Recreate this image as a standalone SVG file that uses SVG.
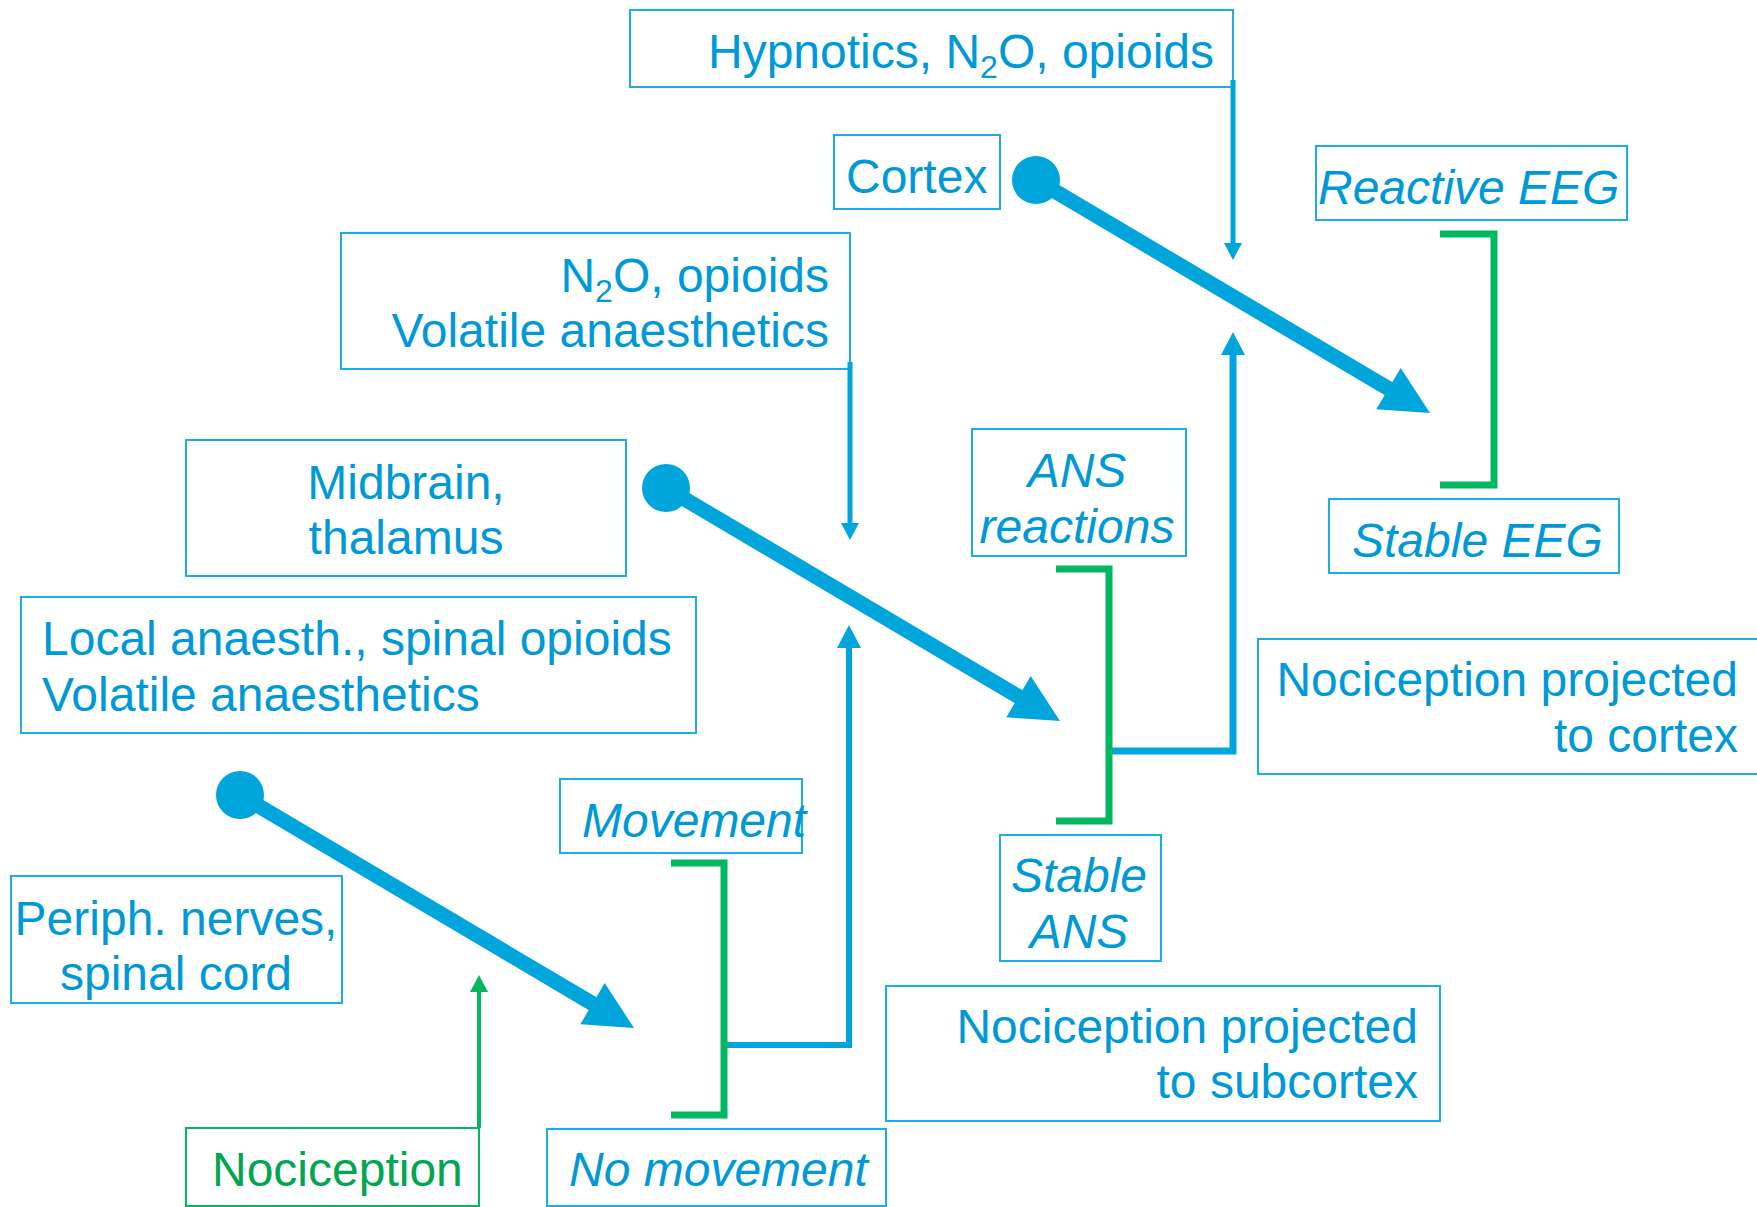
<svg xmlns="http://www.w3.org/2000/svg" width="1757" height="1207" viewBox="0 0 1757 1207">
<style>
.box{fill:#fff;stroke:#1AAEE3;stroke-width:2}
.gbox{fill:#fff;stroke:#00B85F;stroke-width:2}
.t{font-family:"Liberation Sans",Arial,sans-serif;font-size:48px;fill:#0099D8}
.i{font-style:italic}
.g{fill:#00A650}
.mid{text-anchor:middle}
.end{text-anchor:end}
.sub{font-size:32px}
.fill{fill:#00A6DB}
.ln{fill:none;stroke:#00A6DB;stroke-linecap:butt}
.br{fill:none;stroke:#00B85F;stroke-width:7}
</style>
<defs>
<g id="thick">
<circle cx="0" cy="0" r="24" class="fill"/>
<line x1="0" y1="0" x2="354" y2="209.5" class="ln" stroke-width="15"/>
<polygon points="394,233 340.3,229.35 364.7,188.05" class="fill"/>
</g>
</defs>
<rect width="1757" height="1207" fill="#fff"/>

<g id="hypnotics"><rect class="box" x="630" y="10" width="603" height="77"/>
<text class="t end" x="1214" y="68">Hypnotics, N<tspan class="sub" dy="10">2</tspan><tspan dy="-10">O, opioids</tspan></text></g>
<g id="cortex"><rect class="box" x="834" y="135" width="166" height="74"/><text class="t" x="846" y="193">Cortex</text></g>
<g id="reactive-eeg"><rect class="box" x="1316" y="146" width="311" height="74"/><text class="t i" x="1318" y="204">Reactive EEG</text></g>
<g id="stable-eeg"><rect class="box" x="1329" y="499" width="290" height="74"/><text class="t i" x="1352" y="557">Stable EEG</text></g>
<g id="n2o"><rect class="box" x="341" y="233" width="509" height="136"/>
<text class="t end" x="829" y="292">N<tspan class="sub" dy="10">2</tspan><tspan dy="-10">O, opioids</tspan></text>
<text class="t end" x="829" y="347">Volatile anaesthetics</text></g>
<g id="midbrain"><rect class="box" x="186" y="440" width="440" height="136"/>
<text class="t mid" x="406" y="499">Midbrain,</text><text class="t mid" x="406" y="554">thalamus</text></g>
<g id="local"><rect class="box" x="21" y="597" width="675" height="136"/>
<text class="t" x="42" y="655">Local anaesth., spinal opioids</text><text class="t" x="42" y="711">Volatile anaesthetics</text></g>
<g id="periph"><rect class="box" x="11" y="876" width="331" height="127"/>
<text class="t mid" x="176" y="935">Periph. nerves,</text><text class="t mid" x="176" y="990">spinal cord</text></g>
<g id="nociception"><rect class="gbox" x="186" y="1128" width="293" height="78"/><text class="t g" x="212" y="1186">Nociception</text></g>
<g id="movement"><rect class="box" x="560" y="779" width="242" height="74"/><text class="t i" x="582" y="837">Movement</text></g>
<g id="no-movement"><rect class="box" x="547" y="1129" width="339" height="77"/><text class="t i" x="569" y="1186">No movement</text></g>
<g id="ans-reactions"><rect class="box" x="972" y="429" width="214" height="127"/>
<text class="t i mid" x="1077" y="487">ANS</text><text class="t i mid" x="1077" y="543">reactions</text></g>
<g id="stable-ans"><rect class="box" x="1000" y="835" width="161" height="126"/>
<text class="t i mid" x="1079" y="892">Stable</text><text class="t i mid" x="1079" y="948">ANS</text></g>
<g id="noci-cortex"><rect class="box" x="1258" y="639" width="520" height="135"/>
<text class="t end" x="1738" y="696">Nociception projected</text><text class="t end" x="1738" y="752">to cortex</text></g>
<g id="noci-subcortex"><rect class="box" x="886" y="986" width="554" height="135"/>
<text class="t end" x="1418" y="1043">Nociception projected</text><text class="t end" x="1418" y="1098">to subcortex</text></g>

<g id="connectors">
<use href="#thick" transform="translate(1036,180)"/>
<use href="#thick" transform="translate(666,488)"/>
<use href="#thick" transform="translate(240,795)"/>
<line class="ln" stroke-width="5" x1="1233" y1="80" x2="1233" y2="246"/>
<polygon class="fill" points="1233,260 1224,243 1242,243"/>
<line class="ln" stroke-width="5" x1="850" y1="362" x2="850" y2="526"/>
<polygon class="fill" points="850,540 841,523 859,523"/>
<line stroke="#00B85F" stroke-width="4" x1="479" y1="1128" x2="479" y2="990"/>
<polygon fill="#00B85F" points="479,975 470,992 488,992"/>
<path class="ln" stroke-width="6" d="M724,1045 H849 V646"/>
<polygon class="fill" points="849,625 837,648 861,648"/>
<path class="ln" stroke-width="7" d="M1109,751 H1233 V353"/>
<polygon class="fill" points="1233,332 1221,355 1245,355"/>
<path class="br" d="M1440,234 H1494 V485 H1440"/>
<path class="br" d="M1056,569 H1109 V821 H1056"/>
<path class="br" d="M671,863 H724 V1115 H671"/>
</g>
</svg>
